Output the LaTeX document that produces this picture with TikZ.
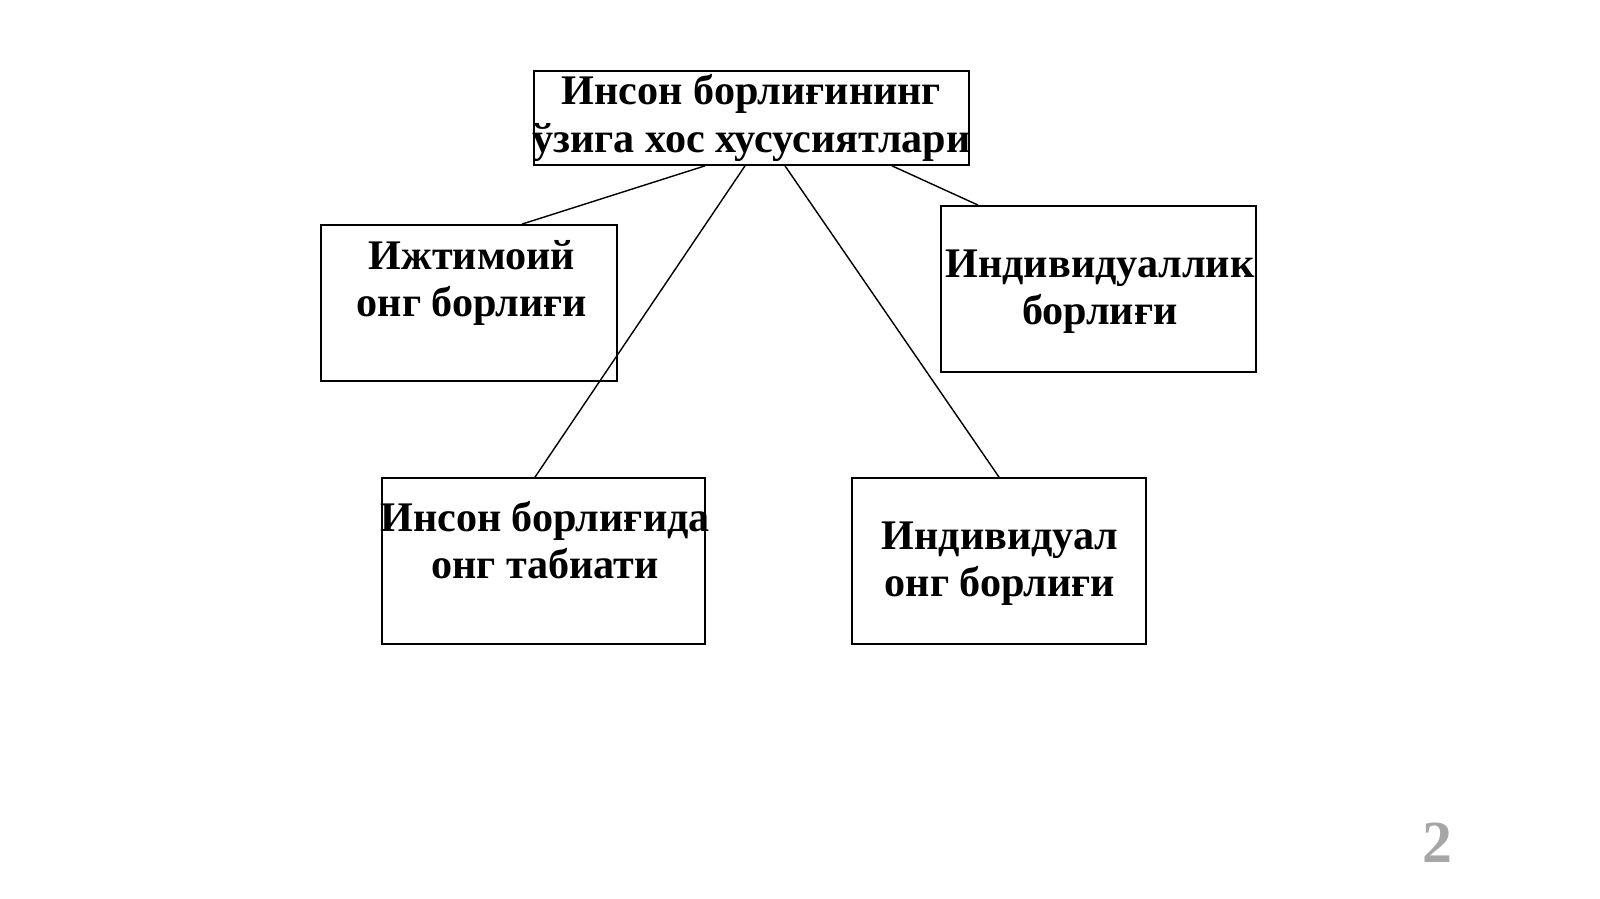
\documentclass[tikz,border=0pt]{standalone}
\usepackage{fontspec}
\setmainfont{Liberation Serif}
\usetikzlibrary{calc}
\tikzset{
  box/.style={draw, line width=0.5pt, inner sep=0pt},
  txt/.style={align=center, font=\fontsize{12}{13.4}\selectfont\bfseries},
}
\begin{document}
\begin{tikzpicture}
    \useasboundingbox (0,0) rectangle (16,8.99);

    % draw boxes
    \node[box, minimum width=4.35cm, minimum height=0.94cm] (top) at (7.515,7.81) {};
    \node[box, minimum width=2.96cm, minimum height=1.56cm] (social) at (4.69,5.96) {};
    \node[box, minimum width=3.15cm, minimum height=1.66cm] (indiv) at (10.985,6.10) {};
    \node[box, minimum width=3.23cm, minimum height=1.66cm] (nature) at (5.435,3.38) {};
    \node[box, minimum width=2.94cm, minimum height=1.66cm] (conscious) at (9.99,3.38) {};

    % draw texts
    \node[txt] (toptxt) at (7.515,7.81) {Инсон борлиғининг\\ ўзига хос хусусиятлари};
    \node[txt] (socialtxt) at (4.72,6.16) {Ижтимоий\\ онг борлиғи};
    \node[txt] (indivtxt) at (11.0,6.07) {Индивидуаллик\\ борлиғи};
    \node[txt] (naturetxt) at (5.45,3.59) {Инсон борлиғида\\ онг табиати};
    \node[txt] (conscioustxt) at (10.0,3.35) {Индивидуал\\ онг борлиғи};
    \node[font=\fontsize{17}{17}\selectfont\bfseries, text=black!35] (page) at (14.37,0.56) {2};

    % draw connectors
    \draw ([xshift=-0.465cm]top.south) -- ([xshift=0.53cm]social.north);
    \draw ([xshift=-0.065cm]top.south) -- ([xshift=-0.085cm]nature.north);
    \draw ([xshift=0.335cm]top.south) -- (conscious.north);
    \draw ([xshift=1.405cm]top.south) -- ([xshift=-1.205cm]indiv.north);
\end{tikzpicture}
\end{document}
